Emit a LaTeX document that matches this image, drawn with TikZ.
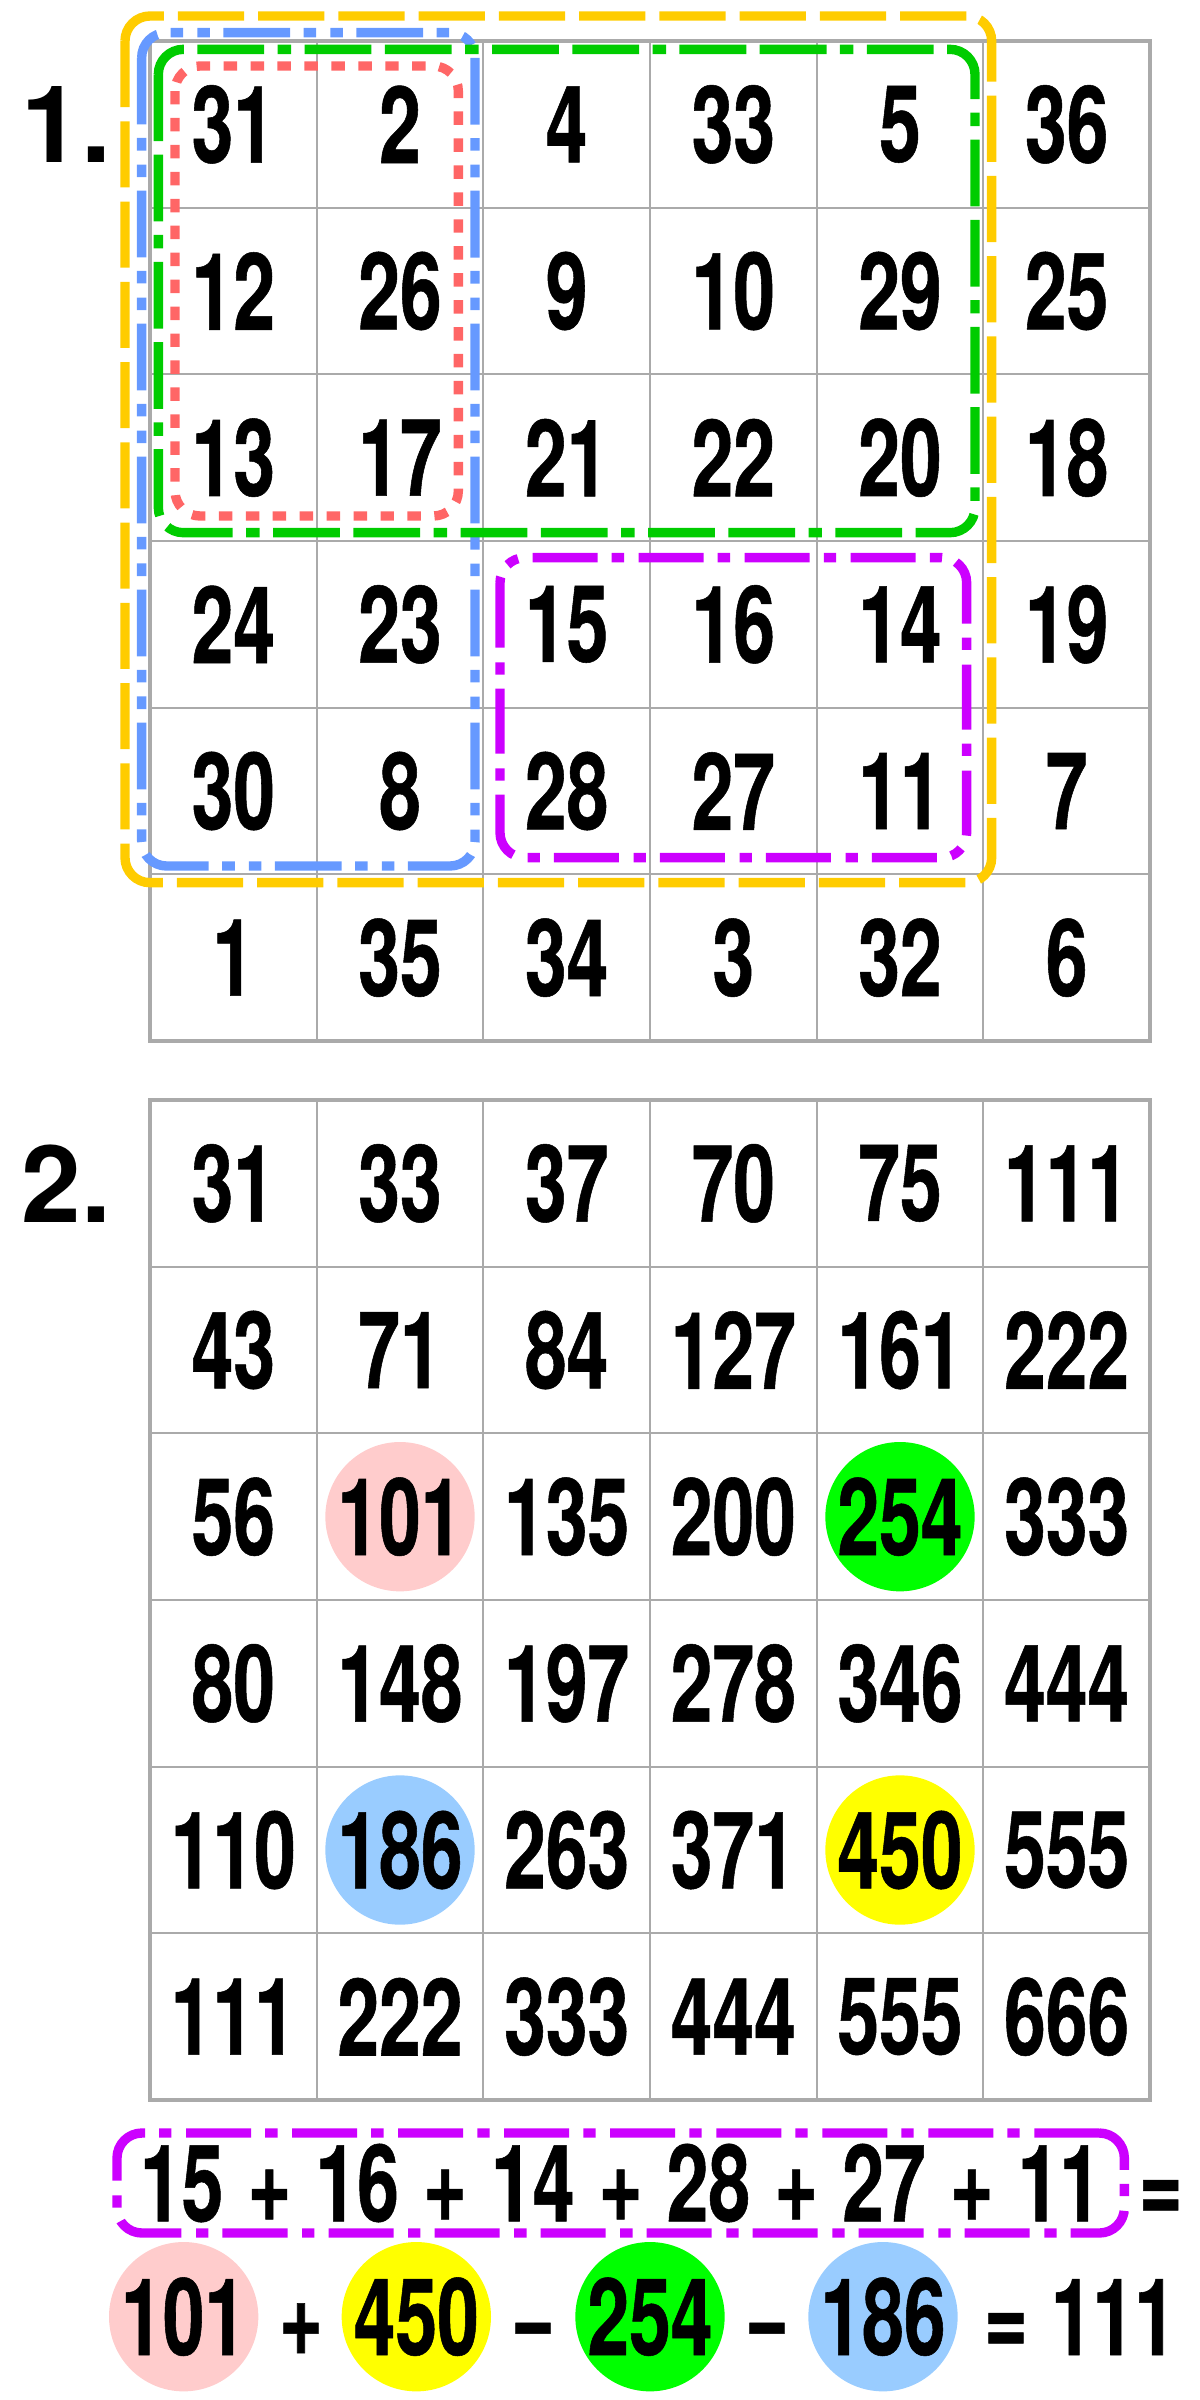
\documentclass[tikz,border=0pt]{standalone}
\usepackage{fontspec}
\setmainfont{TeX Gyre Heros}
\newfontfamily\narrowfont{TeX Gyre Heros}[FakeStretch=0.70, FakeBold=0.5]
\usetikzlibrary{backgrounds}
\definecolor{gridgray}{HTML}{AAAAAA}
\definecolor{boxyellow}{HTML}{FFCC00}
\definecolor{boxblue}{HTML}{6699FF}
\definecolor{boxgreen}{HTML}{00CC00}
\definecolor{boxred}{HTML}{FF6666}
\definecolor{boxpurple}{HTML}{CC00FF}
\definecolor{pinkfill}{HTML}{FFCCCC}
\definecolor{greenfill}{HTML}{00FF00}
\definecolor{bluefill}{HTML}{99CCFF}
\definecolor{yellowfill}{HTML}{FFFF00}
\begin{document}
\begin{tikzpicture}[x=1cm, y=-1cm,
	num/.style={font={\narrowfont\bfseries\fontsize{18.3}{20}\selectfont}, inner sep=0pt},
	part/.style={font={\bfseries\fontsize{18.3}{20}\selectfont}, inner sep=0pt},
	disc/.style={circle, fill=#1, inner sep=-5pt, minimum size=0.896cm},
	gridline/.style={draw=gridgray, line width=0.3pt},
	gridframe/.style={draw=gridgray, line width=0.6pt},
	hlbox/.style={line width=1.6pt, rounded corners=0.15cm},
	yellowbox/.style={hlbox, draw=boxyellow, dash pattern=on 11.3pt off 2.4pt},
	bluebox/.style={hlbox, draw=boxblue, dash pattern=on 11.4pt off 2.3pt on 2.15pt off 2.4pt on 2.15pt off 2.3pt},
	greenbox/.style={hlbox, draw=boxgreen, dash pattern=on 11.4pt off 2.3pt on 11.4pt off 2.3pt on 2.3pt off 2.3pt},
	redbox/.style={hlbox, draw=boxred, dash pattern=on 2.3pt off 2.3pt},
	purplebox/.style={hlbox, draw=boxpurple, dash pattern=on 11.1pt off 2.5pt on 2.1pt off 2.4pt}]
	\useasboundingbox (-0.9, -0.246) rectangle (6.3, 14.154);
	% Grid lines
	\foreach \off in {0, 6.354} {
		\foreach \i in {1, ..., 5} {
			\draw [gridline] (\i, \off) -- (\i, \off + 6);
			\draw [gridline] (0, \off + \i) -- (6, \off + \i);
		}
		\draw [gridframe] (0, \off) rectangle (6, \off + 6);
	}
	% Part labels
	\node [part] (part-1) at (-0.5, 0.5) {1.};
	\node [part] (part-2) at (-0.5, 6.854) {2.};
	% First square
	\foreach \row [count=\r] in {{31,2,4,33,5,36}, {12,26,9,10,29,25}, {13,17,21,22,20,18}, {24,23,15,16,14,19}, {30,8,28,27,11,7}, {1,35,34,3,32,6}}
		\foreach \a [count=\c] in \row
			\node [num] (cell-\r-\c) at (\c - 0.5, \r - 0.5) {\a};
	% Framed blocks
	\draw [yellowbox] (-0.15, -0.15) rectangle (5.05, 5.05);
	\draw [bluebox] (-0.05, -0.05) rectangle (1.95, 4.95);
	\draw [greenbox] (0.05, 0.05) rectangle (4.95, 2.95);
	\draw [redbox] (0.15, 0.15) rectangle (1.85, 2.85);
	\draw [purplebox] (2.1, 3.1) rectangle (4.9, 4.9);
	% Second square
	\foreach \row [count=\r] in {{31,33,37,70,75,111}, {43,71,84,127,161,222}, {56,101,135,200,254,333}, {80,148,197,278,346,444}, {110,186,263,371,450,555}, {111,222,333,444,555,666}}
		\foreach \a [count=\c] in \row
			\node [num] (sum-\r-\c) at (\c - 0.5, \r + 5.854) {\a};
	\begin{scope}[on background layer]
		\fill [pinkfill] (sum-3-2) circle (0.448);
		\fill [greenfill] (sum-3-5) circle (0.448);
		\fill [bluefill] (sum-5-2) circle (0.448);
		\fill [yellowfill] (sum-5-5) circle (0.448);
	\end{scope}
	% First line
	\node [num, purplebox, minimum width=6.044cm, minimum height=0.6cm] (total) at (2.824, 12.852) {\spaceskip=0.145cm 15 + 16 + 14 + 28 + 27 + 11};
	\node [num, anchor=base] (equals) at (6.064, 13.086) {=};
	% Second line
	\foreach \a/\x/\f [count=\i] in {101/0.202/pinkfill, 450/1.598/yellowfill, 254/3.0/greenfill, 186/4.398/bluefill}
		\node [num, anchor=base, disc=\f] (term-\i) at (\x, 13.884) {\a};
	\foreach \a/\x [count=\i] in {+/0.906, −/2.298, −/3.702, =/5.136}
		\node [num, anchor=base] (op-\i) at (\x, 13.884) {\a};
	\node [num, anchor=base] (result) at (5.781, 13.884) {111};
\end{tikzpicture}
\end{document}
